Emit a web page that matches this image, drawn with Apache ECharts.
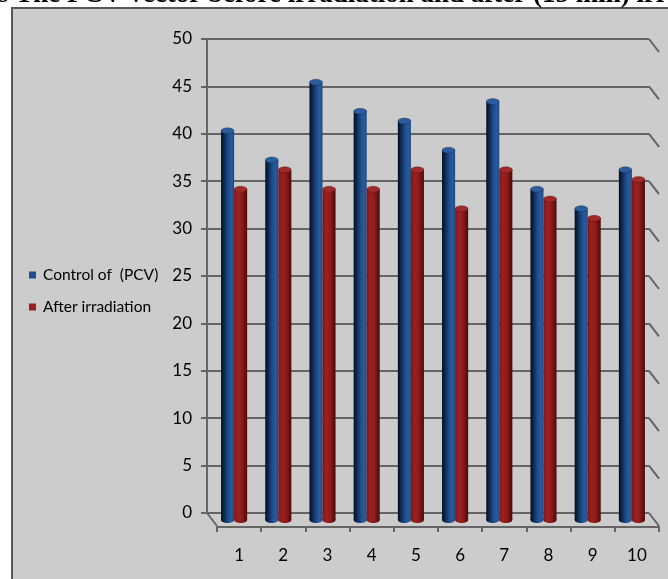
<!DOCTYPE html>
<html>
<head>
<meta charset="utf-8">
<script src="https://cdn.jsdelivr.net/npm/echarts@6/dist/echarts.min.js"></script>
<style>
  html, body { margin: 0; padding: 0; background: #ffffff; }
  #chart { width: 668px; height: 579px; }
</style>
</head>
<body>
<div id="chart"></div>
<script>
// Sample numbers on the category axis
const categories = ['1', '2', '3', '4', '5', '6', '7', '8', '9', '10'];
// PCV values per sample
const controlPCV = [40, 37, 45, 42, 41, 38, 43, 34, 32, 36];
const afterIrradiation = [34, 36, 34, 34, 36, 32, 36, 33, 31, 35];
// Value-axis gridline levels
const gridLevels = [0, 5, 10, 15, 20, 25, 30, 35, 40, 45, 50];

const seriesNames = ['Control of  (PCV)', 'After irradiation'];

const FONT = "Lato, 'Open Sans', sans-serif";
const LINE = '#646464';
const DEPTH_X = 10, DEPTH_Y = 13;   // offset of the front floor edge from the back wall

const blueSide = new echarts.graphic.LinearGradient(0, 0, 1, 0, [
  { offset: 0, color: '#020b18' },
  { offset: 0.22, color: '#0d2850' },
  { offset: 0.55, color: '#1e4d8c' },
  { offset: 0.8, color: '#2a5b9c' },
  { offset: 1, color: '#1c4881' }
]);
const redSide = new echarts.graphic.LinearGradient(0, 0, 1, 0, [
  { offset: 0, color: '#7e1616' },
  { offset: 0.3, color: '#9c2121' },
  { offset: 0.6, color: '#8c1b1b' },
  { offset: 0.85, color: '#661010' },
  { offset: 1, color: '#470909' }
]);

function cylinder(x, w, yTop, yBot, side, top) {
  const ry = 3;
  return {
    type: 'group',
    children: [
      { type: 'ellipse', shape: { cx: x + w / 2, cy: yBot, rx: w / 2, ry: ry }, style: { fill: side } },
      { type: 'rect', shape: { x: x, y: yTop, width: w, height: yBot - yTop }, style: { fill: side } },
      { type: 'ellipse', shape: { cx: x + w / 2, cy: yTop, rx: w / 2, ry: ry }, style: { fill: top, stroke: 'rgba(0,0,0,0.35)', lineWidth: 0.6 } }
    ]
  };
}

function cylinderSeries(name, values, offsetIndex, side, top, legendColor) {
  return {
    name: name,
    type: 'custom',
    xAxisIndex: 2,
    yAxisIndex: 2,
    itemStyle: { color: legendColor },
    data: values.map((v, i) => [i, v]),
    renderItem: function (params, api) {
      const i = api.value(0);
      const topPt = api.coord([i, api.value(1)]);
      const basePt = api.coord([i, 0]);
      const band = api.size([1, 0])[0];
      const w = band * 0.295;
      const x = topPt[0] - w + offsetIndex * w;
      return cylinder(x, w, topPt[1], basePt[1], side, top);
    }
  };
}

const chart = echarts.init(document.getElementById('chart'), null, { renderer: 'canvas' });

chart.setOption({
  animation: false,
  backgroundColor: '#ffffff',
  graphic: [
    {
      type: 'rect',
      z: -10,
      shape: { x: 12, y: 8, width: 700, height: 620 },
      style: { fill: '#cccccc', stroke: '#585858', lineWidth: 2 }
    },
    {
      type: 'text',
      x: -2,
      y: -5,
      style: {
        text: 's The PCV vector before irradiation and after (15 min) irr',
        font: "bold 27px 'Liberation Serif', 'Times New Roman', serif",
        fill: '#000000',
        verticalAlign: 'middle',
        align: 'left'
      }
    }
  ],
  legend: {
    orient: 'vertical',
    left: 29,
    top: 267,
    padding: 0,
    itemWidth: 7,
    itemHeight: 7,
    itemGap: 16,
    icon: 'rect',
    data: seriesNames,
    textStyle: { fontFamily: FONT, fontSize: 15.5, color: '#000000', padding: [0, 0, 0, 2] }
  },
  grid: [
    // back wall
    { left: 207, right: 19, top: 39, bottom: 66 },
    // front floor edge
    { left: 217, right: 9, top: 52, bottom: 52 },
    // cylinders
    { left: 212, right: 14, top: 33.5, bottom: 59 }
  ],
  xAxis: [
    { gridIndex: 0, type: 'value', min: 0, max: 10, show: false },
    {
      gridIndex: 1, type: 'category', data: categories, boundaryGap: true,
      axisLine: { show: true, lineStyle: { color: LINE, width: 2 } },
      axisTick: { show: true, length: 5, alignWithLabel: false, lineStyle: { color: LINE, width: 2 } },
      axisLabel: { margin: 20, fontFamily: FONT, fontSize: 17, color: '#000000' },
      splitLine: { show: false }
    },
    { gridIndex: 2, type: 'category', data: categories, show: false }
  ],
  yAxis: [
    {
      gridIndex: 0, type: 'value', min: 0, max: 50, interval: 5,
      axisLine: { show: true, lineStyle: { color: LINE, width: 2 } },
      axisTick: { show: true, length: 6, lineStyle: { color: LINE, width: 2 } },
      axisLabel: { margin: 15, fontFamily: FONT, fontSize: 17, color: '#000000' },
      splitLine: { show: true, lineStyle: { color: LINE, width: 2 } }
    },
    { gridIndex: 1, type: 'value', min: 0, max: 50, show: false },
    { gridIndex: 2, type: 'value', min: 0, max: 50, show: false }
  ],
  series: [
    {
      // slanted side edges of the back wall gridlines, plus the left floor edge
      type: 'custom',
      xAxisIndex: 0,
      yAxisIndex: 0,
      silent: true,
      z: 1,
      data: gridLevels.map(v => [10, v]),
      renderItem: function (params, api) {
        const p = api.coord([10, api.value(1)]);
        const children = [{
          type: 'line',
          shape: { x1: p[0], y1: p[1], x2: p[0] + DEPTH_X, y2: p[1] + DEPTH_Y },
          style: { stroke: LINE, lineWidth: 2 }
        }];
        if (api.value(1) === 0) {
          const q = api.coord([0, 0]);
          children.push({
            type: 'line',
            shape: { x1: q[0], y1: q[1], x2: q[0] + DEPTH_X, y2: q[1] + DEPTH_Y },
            style: { stroke: LINE, lineWidth: 2 }
          });
        }
        return { type: 'group', children: children };
      }
    },
    cylinderSeries(seriesNames[0], controlPCV, 0, blueSide, '#2c5c9e', '#1f4e8e'),
    cylinderSeries(seriesNames[1], afterIrradiation, 1, redSide, '#a02a2a', '#9b1f1f')
  ]
});
</script>
</body>
</html>
